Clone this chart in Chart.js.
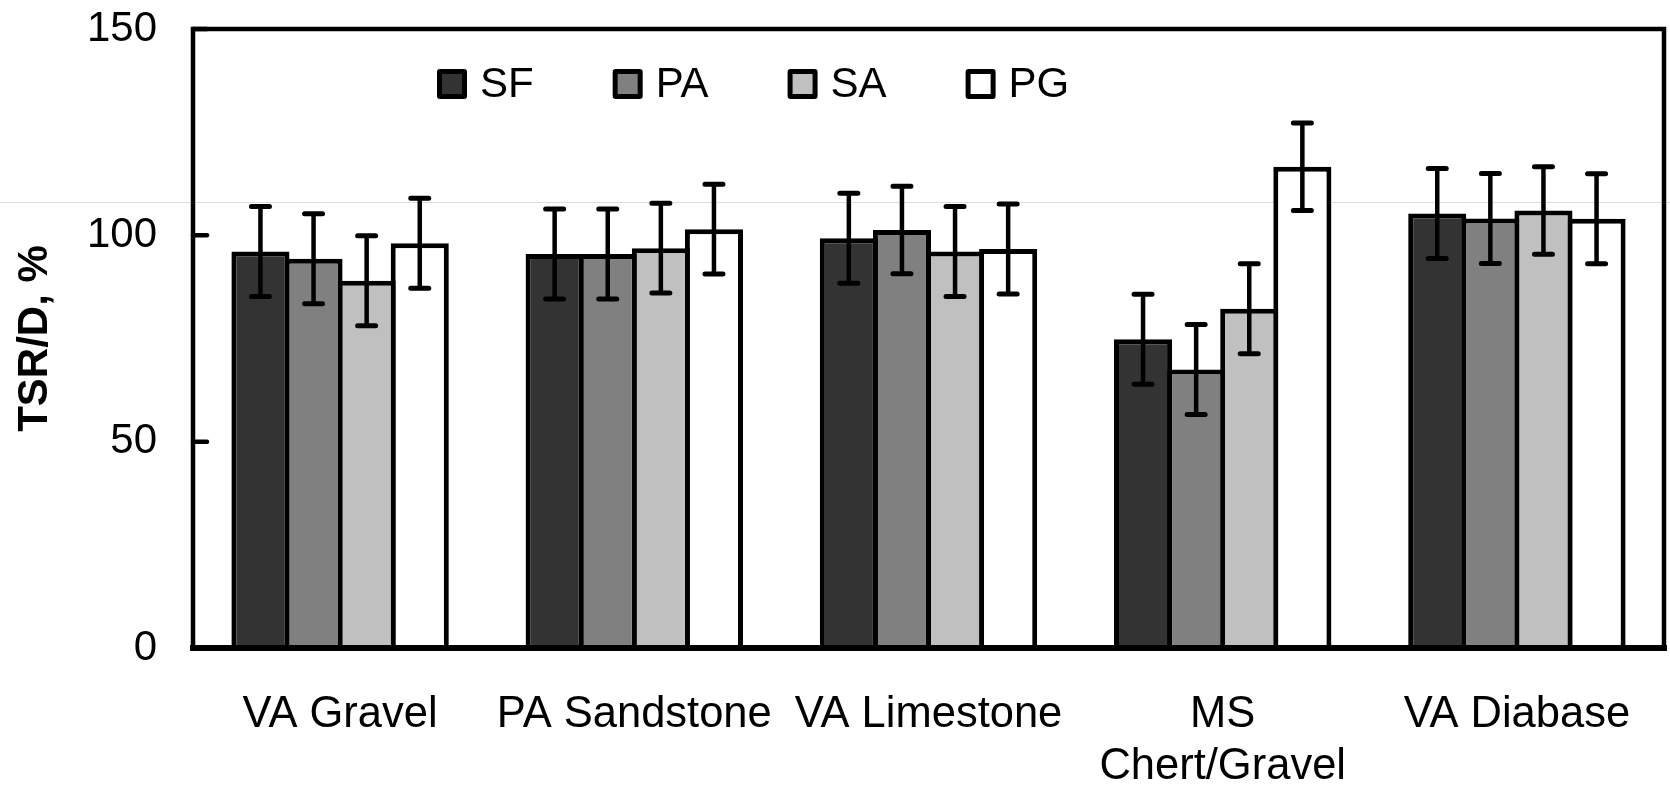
<!DOCTYPE html>
<html>
<head>
<meta charset="utf-8">
<script src="https://cdn.jsdelivr.net/npm/chart.js@4/dist/chart.umd.min.js"></script>
<style>
  html, body { margin: 0; padding: 0; background: #ffffff; }
  #wrap { width: 1670px; height: 785px; }
</style>
</head>
<body>
<div id="wrap"><canvas id="c" width="1670" height="785"></canvas></div>
<script>
// ---- data ----
const categories = ["VA Gravel", "PA Sandstone", "VA Limestone", ["MS", "Chert/Gravel"], "VA Diabase"];
const seriesNames = ["SF", "PA", "SA", "PG"];
const sfValues = [96.1, 95.5, 99.3, 74.8, 105.3];
const paValues = [94.3, 95.5, 101.3, 67.5, 104.1];
const saValues = [89.0, 96.9, 96.1, 82.2, 106.0];
const pgValues = [98.1, 101.5, 96.7, 116.6, 104.0];
const sfErrors = [10.9, 10.9, 10.9, 10.9, 10.9];
const paErrors = [10.9, 10.9, 10.6, 10.9, 10.9];
const saErrors = [10.9, 10.9, 10.9, 10.9, 10.6];
const pgErrors = [10.9, 10.9, 10.9, 10.6, 10.9];
const yTicks = [0, 50, 100, 150];
const strayLineValue = 108.1;

const FONT = "'Liberation Sans', Arial, Helvetica, sans-serif";
const colors = ["#333333", "#808080", "#c0c0c0", "#ffffff"];
const valueSets = [sfValues, paValues, saValues, pgValues];
const errorSets = [sfErrors, paErrors, saErrors, pgErrors];

const datasets = seriesNames.map((name, i) => ({
  label: name,
  data: valueSets[i],
  errors: errorSets[i],
  backgroundColor: colors[i],
  borderColor: "#000000",
  borderWidth: 5,
  borderSkipped: "start",
  categoryPercentage: 0.722,
  barPercentage: 1.094
}));

// stray light line across the whole picture
const strayLine = {
  id: "strayLine",
  beforeDatasetsDraw(chart) {
    const ctx = chart.ctx;
    const y = Math.round(chart.scales.y.getPixelForValue(strayLineValue)) + 0.5;
    ctx.save();
    ctx.strokeStyle = "#dcdcdc";
    ctx.lineWidth = 1;
    ctx.beginPath();
    ctx.moveTo(0, y);
    ctx.lineTo(chart.width, y);
    ctx.stroke();
    ctx.restore();
  }
};

// error bars, frame, inner ticks
const decorations = {
  id: "decorations",
  afterDatasetsDraw(chart) {
    const ctx = chart.ctx;
    const ys = chart.scales.y;
    const area = chart.chartArea;
    ctx.save();
    ctx.strokeStyle = "#000000";
    chart.data.datasets.forEach((ds, di) => {
      const meta = chart.getDatasetMeta(di);
      meta.data.forEach((bar, i) => {
        const v = ds.data[i], e = ds.errors[i];
        const yt = ys.getPixelForValue(v + e);
        const yb = ys.getPixelForValue(v - e);
        ctx.lineWidth = 4.5;
        ctx.lineCap = "butt";
        ctx.beginPath();
        ctx.moveTo(bar.x, yt);
        ctx.lineTo(bar.x, yb);
        ctx.stroke();
        ctx.lineCap = "round";
        ctx.lineWidth = 5;
        ctx.beginPath();
        ctx.moveTo(bar.x - 9, yt); ctx.lineTo(bar.x + 9, yt);
        ctx.moveTo(bar.x - 9, yb); ctx.lineTo(bar.x + 9, yb);
        ctx.stroke();
      });
    });
    // frame
    ctx.lineCap = "square";
    ctx.lineWidth = 4.5;
    ctx.beginPath();
    ctx.moveTo(area.left, area.bottom);
    ctx.lineTo(area.left, area.top);
    ctx.lineTo(area.right, area.top);
    ctx.lineTo(area.right, area.bottom);
    ctx.stroke();
    ctx.lineWidth = 6;
    ctx.beginPath();
    ctx.moveTo(area.left, area.bottom);
    ctx.lineTo(area.right, area.bottom);
    ctx.stroke();
    // inner tick marks
    ctx.lineWidth = 4.5;
    ctx.lineCap = "round";
    yTicks.forEach(t => {
      const y = ys.getPixelForValue(t);
      ctx.beginPath();
      ctx.moveTo(area.left, y);
      ctx.lineTo(area.left + 14, y);
      ctx.stroke();
    });
    ctx.restore();
  }
};

// legend drawn inside the plot
const insideLegend = {
  id: "insideLegend",
  afterDraw(chart, args, opts) {
    const ctx = chart.ctx;
    ctx.save();
    ctx.font = "42px " + FONT;
    ctx.textBaseline = "middle";
    ctx.textAlign = "left";
    let x = opts.x;
    const y = opts.y;
    const bs = opts.boxSize;
    chart.data.datasets.forEach(ds => {
      ctx.fillStyle = "#000000";
      ctx.beginPath();
      ctx.roundRect(x, y - bs / 2, bs, bs, 3);
      ctx.fill();
      ctx.fillStyle = ds.backgroundColor;
      ctx.fillRect(x + 5, y - bs / 2 + 5, bs - 10, bs - 10);
      ctx.fillStyle = "#000000";
      const tx = x + bs + opts.textGap;
      ctx.fillText(ds.label, tx, y + 1);
      x = tx + ctx.measureText(ds.label).width + opts.itemGap;
    });
    ctx.restore();
  }
};

new Chart(document.getElementById("c"), {
  type: "bar",
  data: { labels: categories, datasets: datasets },
  plugins: [strayLine, decorations, insideLegend],
  options: {
    responsive: false,
    devicePixelRatio: 1,
    animation: false,
    layout: { padding: { left: 0, right: 6, top: 29, bottom: 0 } },
    plugins: {
      legend: { display: false },
      tooltip: { enabled: false },
      insideLegend: { x: 437, y: 84, boxSize: 30, textGap: 13, itemGap: 79 }
    },
    scales: {
      x: {
        grid: { display: false, drawTicks: false },
        border: { display: false },
        ticks: {
          color: "#000000",
          font: { family: FONT, size: 43.5, lineHeight: 1.2 },
          padding: 41,
          maxRotation: 0,
          autoSkip: false
        },
        afterFit(scale) {
          scale.height = 137;
          scale.paddingLeft = 0; scale.paddingRight = 0;
        }
      },
      y: {
        min: 0,
        max: 150,
        afterBuildTicks(scale) { scale.ticks = yTicks.map(v => ({ value: v })); },
        grid: { display: false, drawTicks: false },
        border: { display: false },
        ticks: {
          color: "#000000",
          font: { family: FONT, size: 42 },
          padding: 36
        },
        title: {
          display: true,
          text: "TSR/D, %",
          color: "#000000",
          font: { family: FONT, size: 42, weight: "bold" },
          padding: { top: 10, bottom: 0 }
        },
        afterFit(scale) {
          scale.width = 193;
          scale.paddingTop = 0; scale.paddingBottom = 0;
        }
      }
    }
  }
});
</script>
</body>
</html>
